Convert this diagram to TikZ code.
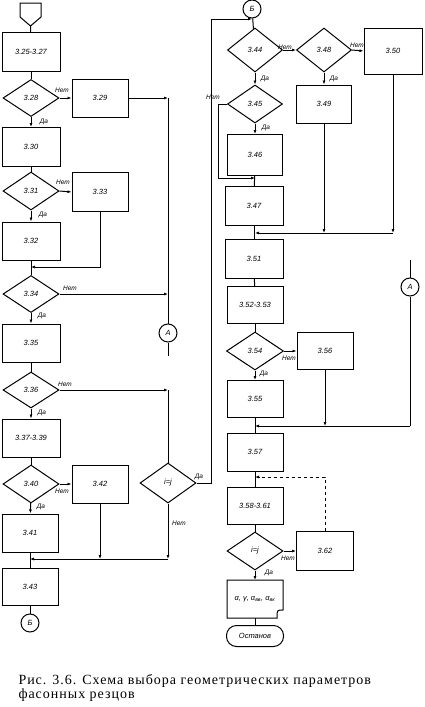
\documentclass[tikz,border=0pt]{standalone}
\usepackage{fontspec}
\setmainfont{Liberation Serif}
\setsansfont{Liberation Sans}
\usetikzlibrary{shapes.geometric,arrows.meta}

\begin{document}
\begin{tikzpicture}[x=1pt, y=-1pt, line width=1pt,
    >={Latex[length=4pt,width=3pt]},
    box/.style={draw, minimum width=56pt, minimum height=38pt, inner sep=0pt,
      font=\sffamily\itshape\fontsize{7.5}{8}\selectfont},
    dec/.style={draw, diamond, minimum width=56pt, minimum height=38pt, inner sep=0pt,
      font=\sffamily\itshape\fontsize{7.5}{8}\selectfont},
    conn/.style={draw, circle, minimum size=18pt, inner sep=0pt,
      font=\sffamily\itshape\fontsize{7.5}{8}\selectfont},
    lbl/.style={inner sep=0.5pt, font=\sffamily\itshape\fontsize{6.5}{7}\selectfont}]
  \useasboundingbox (0,0) rectangle (424,707);

  % Left column
  \draw (20,3) -- (41,3) -- (41,17) -- (30.5,26) -- (20,17) -- cycle;
  \coordinate (s) at (30.5,26);
  \node[box, minimum width=58pt, minimum height=39pt] (b25) at (31,52) {3.25-3.27};
  \node[dec, minimum height=37pt] (d28) at (31,98) {3.28};
  \node[box] (b29) at (100,98) {3.29};
  \node[box, minimum width=58pt, minimum height=39pt] (b30) at (31,147) {3.30};
  \node[dec] (d31) at (31,191) {3.31};
  \node[box, minimum height=39pt] (b33) at (100,192) {3.33};
  \node[box, minimum width=58pt] (b32) at (31,241) {3.32};
  \node[dec, minimum height=37pt] (d34) at (31,294) {3.34};
  \node[box, minimum width=58pt] (b35) at (31,343) {3.35};
  \node[dec, minimum height=36pt] (d36) at (31,390) {3.36};
  \node[box, minimum width=58pt] (b37) at (31,438) {3.37-3.39};
  \node[dec] (d40) at (31,484) {3.40};
  \node[box] (b42) at (100,484) {3.42};
  \node[box] (b41) at (30,533) {3.41};
  \node[box, minimum height=37pt] (b43) at (30,587) {3.43};
  \node[conn] (B1) at (30,623) {Б};
  \node[conn] (A1) at (168,333) {А};
  \node[dec, minimum height=40pt] (ij1) at (168,483) {i=j};

  % Right column
  \node[conn] (B2) at (252,9) {Б};
  \node[dec, minimum width=55pt, minimum height=44pt] (d44) at (255,50) {3.44};
  \node[dec, minimum width=55pt, minimum height=44pt] (d48) at (324,50) {3.48};
  \node[box, minimum width=58pt, minimum height=46pt] (b50) at (393,51) {3.50};
  \node[dec, minimum width=55pt] (d45) at (255,104) {3.45};
  \node[box, minimum width=55pt] (b49) at (324,104) {3.49};
  \node[box, minimum width=55pt, minimum height=41pt] (b46) at (255,155) {3.46};
  \node[box, minimum width=58pt, minimum height=39pt] (b47) at (254,206) {3.47};
  \node[box, minimum width=58pt, minimum height=39pt] (b51) at (254,259) {3.51};
  \node[box, minimum height=37pt] (b52) at (255,305) {3.52-3.53};
  \node[dec, minimum width=57pt] (d54) at (255,351) {3.54};
  \node[box, minimum height=37pt] (b56) at (325,351) {3.56};
  \node[box, minimum height=37pt] (b55) at (255,399) {3.55};
  \node[conn] (A2) at (410,287) {А};
  \node[box] (b57) at (255,452) {3.57};
  \node[box, minimum height=37pt] (b58) at (255,506) {3.58-3.61};
  \node[dec] (ij2) at (255,551) {i=j};
  \node[box, minimum width=57pt, minimum height=39pt] (b62) at (325,551) {3.62};
  \draw (227,580) -- (283,580) -- (283,610) .. controls (277,610) .. (277,618) -- (227,618) -- cycle;
  \node[box, draw=none] (out) at (255,599) {α, γ, α\textsubscript{вв}, α\textsubscript{вк}};
  \node[box, rounded corners=10pt, minimum width=57pt, minimum height=21pt] (stop) at (255,636) {Останов};

  % Junctions
  \coordinate (c1) at (168,98);
  \coordinate (c2) at (168,294);
  \coordinate (c3) at (168,390);
  \coordinate (a1) at (168,356);
  \coordinate (j1) at (31,267);
  \coordinate (j2) at (30,559);
  \coordinate (c4) at (211,19);
  \coordinate (c5) at (252,19);
  \coordinate (c7) at (218,178);
  \coordinate (c6) at (255,178);
  \coordinate (j3) at (255,233);
  \coordinate (a2) at (410,260);
  \coordinate (j4) at (255,426);
  \coordinate (j5) at (255,477);

  % Left connectors
  \draw (s) -- (b25);
  \draw (b25) -- (d28);
  \draw[->] (d28.east) -- (b29.west);
  \draw[->] (d28) -- (b30);
  \draw[->] (b29.east) -- (c1);
  \draw (c1) -- (A1);
  \draw (A1) -- (a1);
  \draw (b30) -- (d31);
  \draw[->] (d31.east) -- (b33.west);
  \draw[->] (d31) -- (b32);
  \draw[->] (b33.south) |- (j1);
  \draw (b32) -- (d34);
  \draw[->] (d34.east) -- (c2);
  \draw[->] (d34) -- (b35);
  \draw (b35) -- (d36);
  \draw[->] (d36.east) -- (c3);
  \draw (c3) -- (ij1);
  \draw[->] (d36) -- (b37);
  \draw (b37) -- (d40);
  \draw[->] (d40.east) -- (b42.west);
  \draw[->] (d40) -- (b41);
  \draw[->] (b42.south) -- (b42.south |- j2);
  \draw[->] (ij1.south) -- (ij1.south |- j2);
  \draw[->] (ij1.south |- j2) -- (j2);
  \draw (b41) -- (b43);
  \draw (b43) -- (B1);
  \draw[->] (ij1.east) -| (c4) -- (c5);

  % Right connectors
  \draw (B2) -- (d44);
  \draw[->] (d44.east) -- (d48.west);
  \draw[->] (d48.east) -- (b50.west);
  \draw[->] (d44) -- (d45);
  \draw[->] (d48) -- (b49);
  \draw[->] (d45) -- (b46);
  \draw[->] (d45.west) -| (c7) -- (c6);
  \draw (b46) -- (b47);
  \draw[->] (b49.south) -- (b49.south |- j3);
  \draw[->] (b50.south) -- (b50.south |- j3);
  \draw[->] (b50.south |- j3) -- (j3);
  \draw (b47) -- (b51);
  \draw (b51) -- (b52);
  \draw (b52) -- (d54);
  \draw[->] (d54.east) -- (b56.west);
  \draw[->] (d54) -- (b55);
  \draw (a2) -- (A2);
  \draw (A2) -- (A2 |- j4);
  \draw[->] (A2 |- j4) -- (j4);
  \draw[->] (b56.south) -- (b56.south |- j4);
  \draw (b55) -- (b57);
  \draw (b57) -- (b58);
  \draw[dashed, ->] (b62.north) |- (j5);
  \draw (b58) -- (ij2);
  \draw[->] (ij2.east) -- (b62.west);
  \draw[->] (ij2.south) -- (255,580);
  \draw (255,618) -- (stop);

  % Branch labels
  \node[lbl] (l1) at (62,90) {Нет};
  \node[lbl] (l2) at (44,122) {Да};
  \node[lbl] (l3) at (63,182) {Нет};
  \node[lbl] (l4) at (43,215) {Да};
  \node[lbl] (l5) at (70,288) {Нет};
  \node[lbl] (l6) at (42,316) {Да};
  \node[lbl] (l7) at (65,384) {Нет};
  \node[lbl] (l8) at (42,413) {Да};
  \node[lbl] (l9) at (62,491) {Нет};
  \node[lbl] (l10) at (41,507) {Да};
  \node[lbl] (l11) at (179,523) {Нет};
  \node[lbl] (l12) at (199,477) {Да};
  \node[lbl] (l13) at (285,47) {Нет};
  \node[lbl] (l14) at (265,79) {Да};
  \node[lbl] (l15) at (357,45) {Нет};
  \node[lbl] (l16) at (334,79) {Да};
  \node[lbl] (l17) at (213,97) {Нет};
  \node[lbl] (l18) at (266,128) {Да};
  \node[lbl] (l19) at (289,358) {Нет};
  \node[lbl] (l20) at (264,374) {Да};
  \node[lbl] (l21) at (288,558) {Нет};
  \node[lbl] (l22) at (269,573) {Да};

  % Caption
  \node[anchor=north west, align=left, inner sep=0pt,
    font=\fontsize{14}{14}\selectfont\addfontfeature{LetterSpace=7}] (cap) at (18,674)
    {Рис. 3.6. Схема выбора геометрических параметров\\фасонных резцов};
\end{tikzpicture}
\end{document}
